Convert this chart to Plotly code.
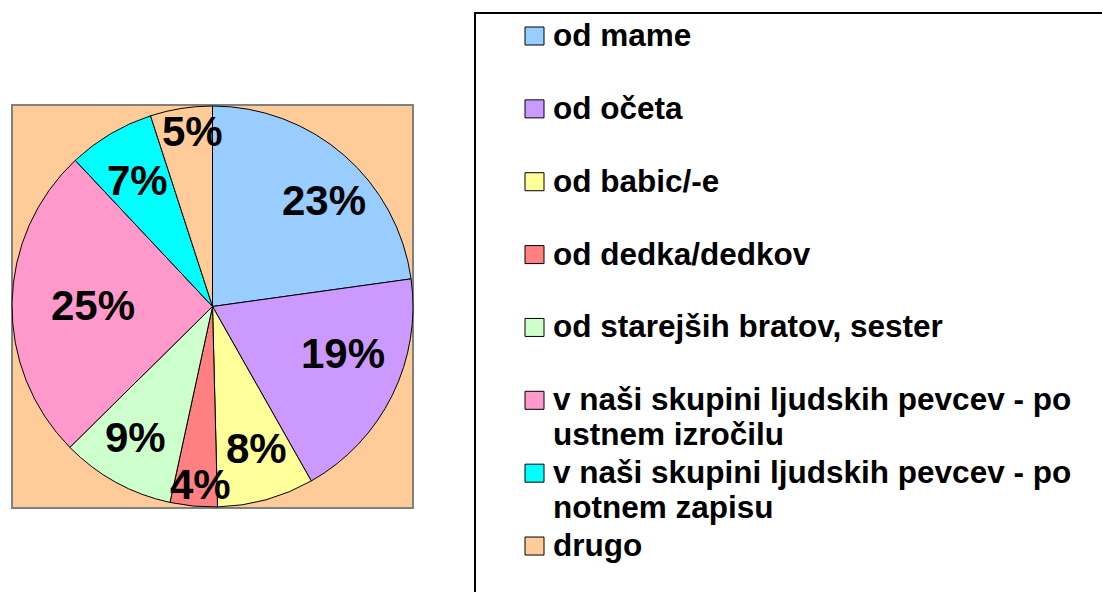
import math
import plotly.graph_objects as go

W, H = 1102, 592

categories = [
    "od mame",
    "od očeta",
    "od babic/-e",
    "od dedka/dedkov",
    "od starejših bratov, sester",
    "v naši skupini ljudskih pevcev - po<br>ustnem izročilu",
    "v naši skupini ljudskih pevcev - po<br>notnem zapisu",
    "drugo",
]
values = [22.8, 19.0, 7.8, 3.8, 9.2, 25.4, 7.0, 5.0]
colors = ["#99CCFF", "#CC99FF", "#FFFF99", "#FF8080", "#CCFFCC", "#FF99CC", "#00FFFF", "#FFCC99"]

# label placement (style only): distance from centre as fraction of radius,
# and small angular nudge in degrees from the slice mid-angle
label_r = [0.767, 0.69, 0.74, 0.89, 0.76, 0.596, 0.733, 0.876]
label_nudge = [5.4, -6.6, -1.8, -1.7, 1.7, -0.4, -0.1, 2.5]

FONT = "Liberation Sans, Arial, sans-serif"

def px(x):
    return x / W

def py(y):
    return 1 - y / H

# plot area (pie box)
bx0, by0, bx1, by1 = 12, 105, 413, 508
cx, cy = (bx0 + bx1) / 2, (by0 + by1) / 2
R = min(bx1 - bx0, by1 - by0) / 2

fig = go.Figure()
fig.add_trace(go.Pie(
    labels=[c.replace("<br>", " ") for c in categories],
    values=values,
    sort=False,
    direction="clockwise",
    rotation=0,
    marker=dict(colors=colors, line=dict(color="black", width=1)),
    textinfo="none",
    hoverinfo="label+percent",
    showlegend=False,
    domain=dict(x=[px(bx0), px(bx1)], y=[py(by1), py(by0)]),
))

shapes = []
annotations = []

# plot-area background
shapes.append(dict(type="rect", xref="paper", yref="paper", layer="below",
                   x0=px(bx0), x1=px(bx1), y0=py(by1), y1=py(by0),
                   fillcolor="#FFCC99", line=dict(color="#808080", width=2)))

# percentage labels
total = sum(values)
cum = 0
for v, f, nd in zip(values, label_r, label_nudge):
    mid = (cum + v / 2) / total * 2 * math.pi + math.radians(nd)
    cum += v
    lx = cx + f * R * math.sin(mid)
    ly = cy - f * R * math.cos(mid)
    annotations.append(dict(
        x=px(lx), y=py(ly), xref="paper", yref="paper", showarrow=False,
        text="<b>%d%%</b>" % round(v / total * 100),
        font=dict(family=FONT, size=42, color="black"),
        xanchor="center", yanchor="middle"))

# legend box
shapes.append(dict(type="rect", xref="paper", yref="paper",
                   x0=px(475), x1=px(1120), y0=py(610), y1=py(13),
                   fillcolor="rgba(0,0,0,0)", line=dict(color="black", width=2)))

first_base, step, line_gap = 45, 72.86, 35
for i, (cat, col) in enumerate(zip(categories, colors)):
    base = first_base + i * step
    shapes.append(dict(type="rect", xref="paper", yref="paper",
                       x0=px(525), x1=px(544), y0=py(base), y1=py(base - 18),
                       fillcolor=col, line=dict(color="black", width=1)))
    for j, line in enumerate(cat.split("<br>")):
        b = base + j * line_gap
        annotations.append(dict(
            x=px(551), y=py(b - 10), xref="paper", yref="paper", showarrow=False,
            text="<b>%s</b>" % line,
            font=dict(family=FONT, size=31.5, color="black"),
            xanchor="left", yanchor="middle"))

fig.update_layout(
    width=W, height=H,
    margin=dict(l=0, r=0, t=0, b=0),
    paper_bgcolor="white",
    plot_bgcolor="white",
    shapes=shapes,
    annotations=annotations,
)

fig.write_html("out.html", config={"displayModeBar": False},
               post_script="document.body.style.margin='0';document.body.style.overflow='hidden';")
